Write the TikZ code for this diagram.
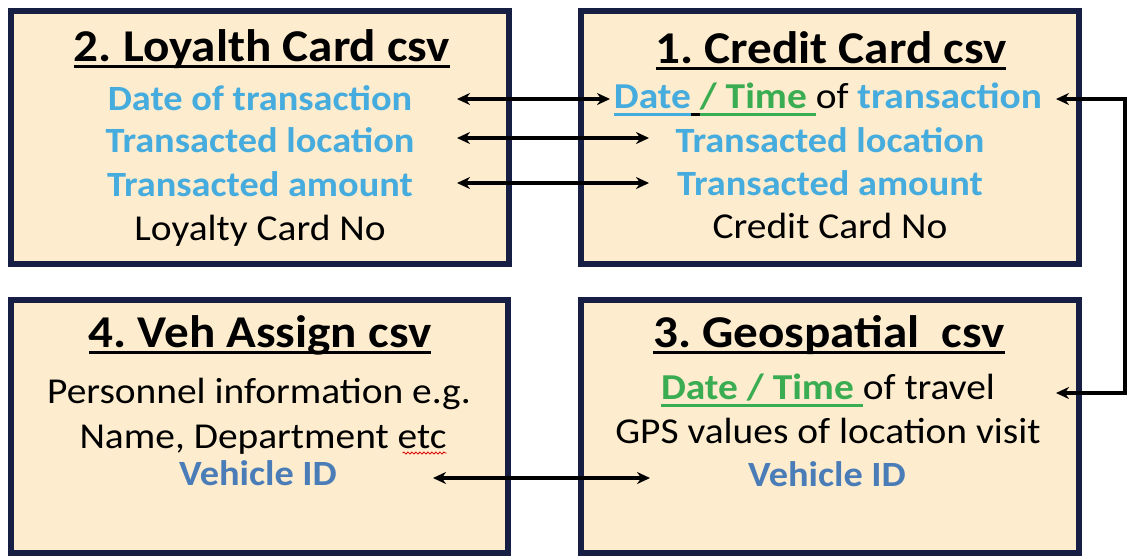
\documentclass[tikz,border=0pt]{standalone}
\usepackage{fontspec}
\setmainfont{Carlito}[FakeStretch=1.08]
\usetikzlibrary{arrows.meta,decorations.pathmorphing}

\definecolor{boxfill}{RGB}{253,236,205}
\definecolor{boxline}{RGB}{22,30,68}
\definecolor{fieldblue}{RGB}{70,172,222}
\definecolor{idblue}{RGB}{74,124,184}
\definecolor{timegreen}{RGB}{58,172,82}

\tikzset{
  csvbox/.style={draw=boxline, fill=boxfill, line width=5.5pt},
  title/.style={anchor=base, inner sep=0pt, font=\fontsize{45.5}{50}\selectfont\bfseries},
  field/.style={anchor=base, inner sep=0pt, font=\fontsize{35.5}{40}\selectfont\bfseries, text=fieldblue},
  plain/.style={anchor=base, inner sep=0pt, font=\fontsize{36.5}{40}\selectfont},
  idfield/.style={anchor=base, inner sep=0pt, font=\fontsize{35.5}{40}\selectfont\bfseries, text=idblue},
  link/.style={line width=3.3pt, {Stealth[length=13pt,width=12pt]}-{Stealth[length=13pt,width=12pt]}},
}

% underlined text: colour, depth of rule bottom below baseline, thickness, text
\newcommand{\ulbox}[4]{\leavevmode\setbox0\hbox{{#4}}%
  \rlap{{\color{#1}\rule[-#2]{\wd0}{#3}}}\box0}
\newcommand{\ttl}[1]{\ulbox{black}{6.5pt}{2.8pt}{#1}}

\begin{document}
\frenchspacing
\begin{tikzpicture}[x=1pt, y=-1pt]
\useasboundingbox (0,0) rectangle (1127,558);

% the four csv boxes
\draw[csvbox] (11,11) rectangle (509,264) coordinate (b2);
\draw[csvbox] (581,11) rectangle (1079,264) coordinate (b1);
\draw[csvbox] (11,300) rectangle (508,553) coordinate (b4);
\draw[csvbox] (581,300) rectangle (1079,553) coordinate (b3);

% 2. Loyalty card file
\node[title] (t2) at (262,61) {\ttl{2. Loyalth Card csv}};
\node[field] (l1) at (260,110) {Date of transaction};
\node[field] (l2) at (260,152) {Transacted location};
\node[field] (l3) at (260,196) {Transacted amount};
\node[plain] (l4) at (260,240) {Loyalty Card No};

% 1. Credit card file
\node[title] (t1) at (831,63) {\ttl{1. Credit Card csv}};
\node[plain] (c1) at (828,108) {\bfseries
  \ulbox{fieldblue}{7.5pt}{2.5pt}{\color{fieldblue}Date}%
  \ulbox{black}{7.5pt}{2.5pt}{\ }%
  \ulbox{timegreen}{7.5pt}{2.5pt}{\color{timegreen}/ Time\ }%
  \mdseries of \bfseries\textcolor{fieldblue}{transaction}};
\node[field] (c2) at (830,152) {Transacted location};
\node[field] (c3) at (830,195) {Transacted amount};
\node[plain] (c4) at (830,238) {Credit Card No};

% 4. Vehicle assignment file
\node[title] (t4) at (260,347) {\ttl{4. Veh Assign csv}};
\node[plain] (v1) at (259,403) {Personnel information e.g.};
\node[plain] (v2) at (263,448) {Name, Department etc};
\node[idfield] (v3) at (258,485) {Vehicle ID};
\draw[red!85!black, line width=0.8pt, decorate,
      decoration={snake, amplitude=1pt, segment length=4pt}]
  ([xshift=-44pt, yshift=-5pt]v2.base east) -- ([yshift=-5pt]v2.base east);

% 3. Geospatial file
\node[title] (t3) at (829,347) {\ttl{3. Geospatial\ \ csv}};
\node[plain] (g1) at (828,399) {\bfseries
  \ulbox{timegreen}{7.5pt}{2.5pt}{\color{timegreen}Date / Time\ }%
  \mdseries of travel};
\node[plain] (g2) at (828,443) {GPS values of location visit};
\node[idfield] (g3) at (827,486) {Vehicle ID};

% connector end points
\coordinate (p1l) at (457,99);   \coordinate (p1r) at (610,99);
\coordinate (p2l) at (457,138);  \coordinate (p2r) at (649,138);
\coordinate (p3l) at (457,183);  \coordinate (p3r) at (649,183);
\coordinate (p4l) at (433,478);  \coordinate (p4r) at (650,478);
\coordinate (q1) at (1056,99);   \coordinate (q3) at (1056,393);
\coordinate (qx) at (1125,99);

% matching fields
\draw[link] (p1l) -- (p1r);
\draw[link] (p2l) -- (p2r);
\draw[link] (p3l) -- (p3r);
\draw[link] (p4l) -- (p4r);
\draw[link] (q1) -- (qx) |- (q3);
\end{tikzpicture}
\end{document}
